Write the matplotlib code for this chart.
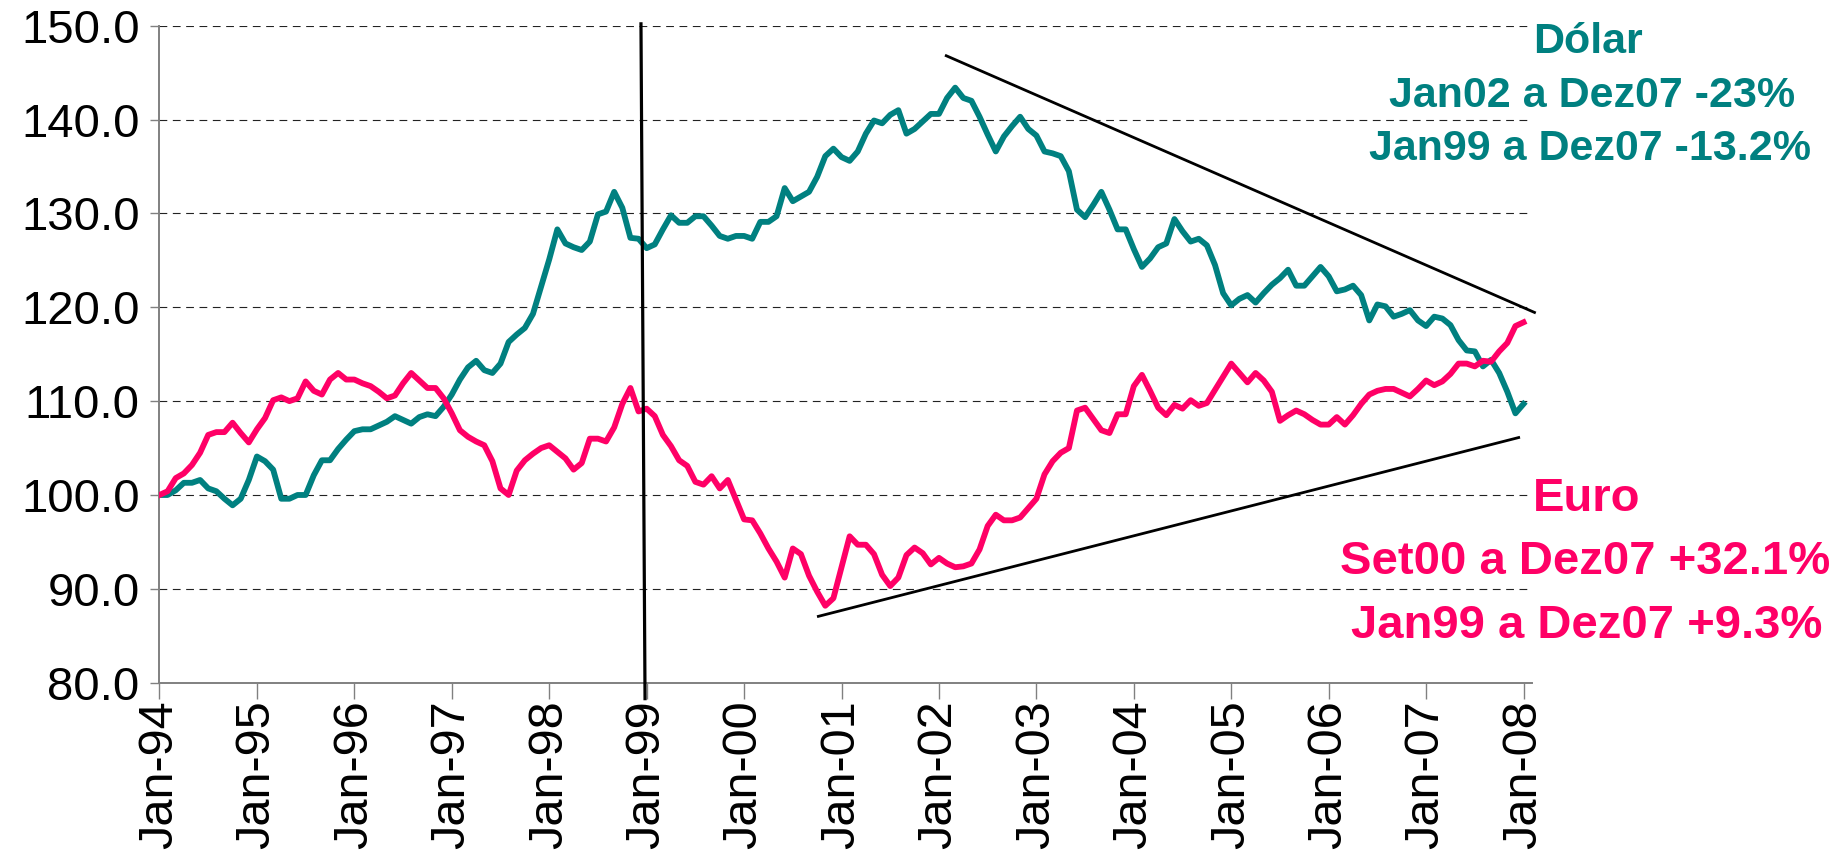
import matplotlib
matplotlib.use('Agg')
import matplotlib.pyplot as plt

plt.rcParams['font.family'] = ['Liberation Sans', 'DejaVu Sans']

# rótulos do eixo x (um a cada 12 meses, jan-94 .. jan-08)
anos = ['Jan-94', 'Jan-95', 'Jan-96', 'Jan-97', 'Jan-98', 'Jan-99', 'Jan-00',
        'Jan-01', 'Jan-02', 'Jan-03', 'Jan-04', 'Jan-05', 'Jan-06', 'Jan-07', 'Jan-08']

# índices mensais (jan-94 = 100)
dolar = [
    100.0, 100.0, 100.5, 101.3, 101.3, 101.6, 100.7, 100.4, 99.6, 98.9,
    99.6, 101.6, 104.1, 103.6, 102.7, 99.6, 99.6, 100.0, 100.0, 102.1,
    103.7, 103.7, 104.9, 105.9, 106.8, 107.0, 107.0, 107.4, 107.8, 108.4,
    108.0, 107.6, 108.3, 108.6, 108.4, 109.4, 110.7, 112.3, 113.6, 114.3,
    113.3, 113.0, 114.0, 116.3, 117.1, 117.8, 119.3, 122.2, 125.1, 128.3,
    126.8, 126.4, 126.1, 127.0, 129.9, 130.2, 132.3, 130.6, 127.4, 127.3,
    126.3, 126.7, 128.3, 129.8, 129.0, 129.0, 129.7, 129.7, 128.7, 127.6,
    127.3, 127.6, 127.6, 127.3, 129.1, 129.1, 129.7, 132.7, 131.3, 131.8,
    132.3, 133.9, 136.1, 136.9, 136.0, 135.6, 136.6, 138.5, 139.9, 139.6,
    140.5, 141.0, 138.5, 139.0, 139.8, 140.6, 140.6, 142.3, 143.4, 142.3,
    142.0, 140.3, 138.4, 136.6, 138.2, 139.3, 140.3, 139.0, 138.3, 136.6,
    136.4, 136.1, 134.5, 130.4, 129.6, 130.9, 132.3, 130.4, 128.3, 128.3,
    126.2, 124.3, 125.2, 126.4, 126.8, 129.4, 128.1, 127.0, 127.3, 126.6,
    124.5, 121.5, 120.2, 120.9, 121.3, 120.5, 121.5, 122.4, 123.1, 124.0,
    122.3, 122.3, 123.3, 124.3, 123.3, 121.7, 121.9, 122.3, 121.3, 118.6,
    120.3, 120.1, 119.0, 119.3, 119.7, 118.6, 118.0, 119.0, 118.8, 118.1,
    116.5, 115.4, 115.3, 113.7, 114.4, 113.0, 111.0, 108.7, 109.7,
]

euro = [
    100.0, 100.4, 101.8, 102.3, 103.2, 104.5, 106.4, 106.7, 106.7, 107.7,
    106.6, 105.6, 107.0, 108.2, 110.1, 110.4, 110.0, 110.3, 112.1, 111.1,
    110.7, 112.3, 113.0, 112.3, 112.3, 111.9, 111.6, 111.0, 110.3, 110.6,
    111.9, 113.0, 112.2, 111.4, 111.4, 110.3, 108.7, 106.9, 106.2, 105.7,
    105.3, 103.6, 100.7, 100.0, 102.6, 103.7, 104.4, 105.0, 105.3, 104.6,
    103.9, 102.7, 103.4, 106.0, 106.0, 105.7, 107.2, 109.7, 111.4, 108.9,
    109.2, 108.4, 106.4, 105.2, 103.7, 103.1, 101.4, 101.1, 102.0, 100.7,
    101.6, 99.5, 97.4, 97.3, 95.9, 94.3, 92.9, 91.2, 94.3, 93.7,
    91.4, 89.7, 88.2, 89.0, 92.3, 95.6, 94.7, 94.7, 93.7, 91.5,
    90.3, 91.2, 93.6, 94.4, 93.8, 92.6, 93.3, 92.7, 92.3, 92.4,
    92.7, 94.2, 96.7, 97.9, 97.3, 97.3, 97.6, 98.6, 99.6, 102.2,
    103.6, 104.5, 105.0, 109.0, 109.3, 108.1, 106.9, 106.6, 108.6, 108.6,
    111.6, 112.8, 111.1, 109.3, 108.5, 109.6, 109.2, 110.1, 109.5, 109.8,
    111.2, 112.6, 114.0, 113.0, 112.0, 113.0, 112.2, 111.0, 107.9, 108.5,
    109.0, 108.6, 108.0, 107.5, 107.5, 108.3, 107.5, 108.5, 109.7, 110.7,
    111.1, 111.3, 111.3, 110.9, 110.5, 111.3, 112.2, 111.7, 112.1, 112.9,
    114.0, 114.0, 113.7, 114.3, 114.2, 115.3, 116.2, 118.0, 118.4,
]

# linhas desenhadas à mão (mês, valor)
tend_dolar_x = [96.9, 169.35]
tend_dolar_y = [146.8, 119.45]
tend_euro_x = [81.15, 167.4]
tend_euro_y = [87.07, 106.12]
marco_x = [59.3, 59.8]
marco_y = [150.2, 78.3]

TEAL = '#008080'
ROSA = '#FF0066'

fig = plt.figure(figsize=(18.32, 8.6), dpi=100)
ax = fig.add_axes([0.08706, 0.20616, 0.74900, 0.76395])

meses = list(range(len(dolar)))
ax.plot(meses, dolar, color=TEAL, lw=4.2, zorder=3)
ax.plot(meses, euro, color=ROSA, lw=4.2, zorder=3)

ax.plot(tend_dolar_x, tend_dolar_y, color='black', lw=2.0, clip_on=False, zorder=4)
ax.plot(tend_euro_x, tend_euro_y, color='black', lw=2.0, clip_on=False, zorder=4)
ax.plot(marco_x, marco_y, color='black', lw=2.3, clip_on=False, zorder=4)

ax.set_xlim(0, 169)
ax.set_ylim(80, 150)
ax.set_xticks(range(0, 169, 12))
ax.set_xticklabels(anos, rotation=90)
ax.set_yticks(range(80, 151, 10))
ax.set_yticklabels(['%.1f' % v for v in range(80, 151, 10)])

ax.yaxis.grid(True, linestyle=(0, (7, 5)), lw=0.8, color='#222222', zorder=1)
for s in ['top', 'right']:
    ax.spines[s].set_visible(False)
for s in ['left', 'bottom']:
    ax.spines[s].set_color('#808080')
    ax.spines[s].set_linewidth(1.4)

ax.tick_params(axis='y', length=6.3, width=1, color='#808080', pad=8, labelsize=34)
ax.tick_params(axis='x', length=11.5, width=1, color='#808080', pad=1, labelsize=35)

# anotações (posições em pixels da figura)
W, H = 1832, 860

def texto(x, y, s, cor, tam):
    fig.text(x / W, 1 - y / H, s, color=cor, fontsize=tam, fontweight='bold',
             ha='center', va='baseline')

texto(1588, 53, 'Dólar', TEAL, 31)
texto(1592, 107, 'Jan02 a Dez07 -23%', TEAL, 31)
texto(1590, 160, 'Jan99 a Dez07 -13.2%', TEAL, 31)

texto(1587, 511, 'Euro', ROSA, 34)
texto(1585, 574, 'Set00 a Dez07 +32.1%', ROSA, 34)
texto(1587, 638, 'Jan99 a Dez07 +9.3%', ROSA, 34)

fig.savefig('out.png', dpi=100)
